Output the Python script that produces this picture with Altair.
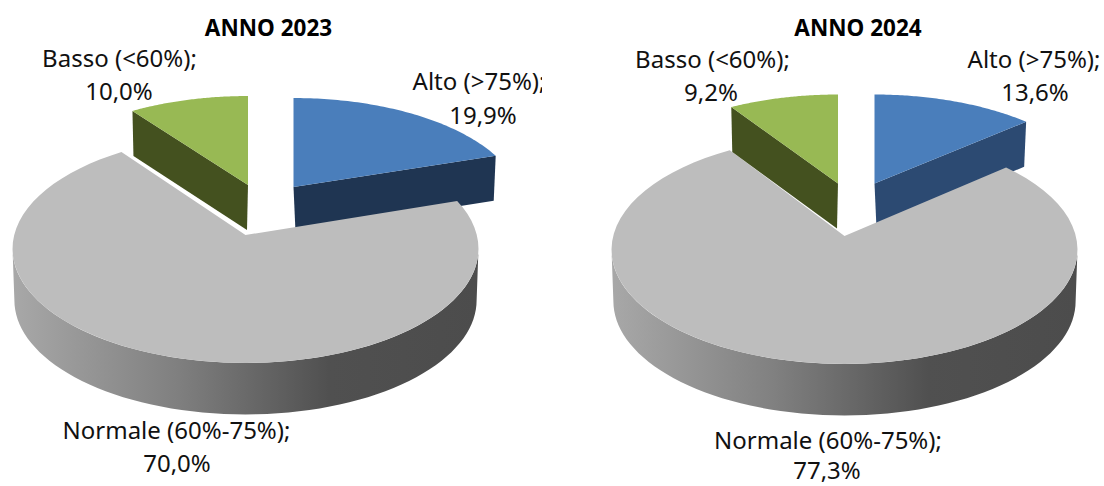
import math
import altair as alt

# Share of readings in each band, per year
categories = ["Alto (>75%)", "Normale (60%-75%)", "Basso (<60%)"]
values_2023 = [19.9, 70.0, 10.0]
values_2024 = [13.6, 77.3, 9.2]
years = ["ANNO 2023", "ANNO 2024"]

FONT = "Noto Sans"
BLUE, GREEN, GREY = "#4a7ebb", "#98b954", "#bdbdbd"
GREEN_SIDE = "#44511f"
DEPTH = 45


def rim(apex, turn, a, b, k):
    """Point of the tilted disc at `turn` (0-1, clockwise from the back)."""
    t = 2 * math.pi * turn
    u, v = math.sin(t), math.cos(t)
    w = 1 + k * v
    return [apex[0] + a * u / w, apex[1] - b * v / w]


def arc(apex, t0, t1, a, b, k, n=70):
    return [rim(apex, t0 + (t1 - t0) * i / n, a, b, k) for i in range(n + 1)]


def feature(points, fill):
    ring = points + [points[0]]
    return {"type": "Feature", "properties": {"fill": fill},
            "geometry": {"type": "Polygon", "coordinates": [ring]}}


def wedge(apex, t0, t1, a=225, b=105, k=0.18):
    return [apex] + arc(apex, t0, t1, a, b, k)


def cut_wall(apex, turn, dx, fill, a=225, b=105, k=0.18):
    """Flat face of a pulled-out slice, running from its centre to its rim."""
    end = rim(apex, turn, a, b, k)
    return feature([apex, end, [end[0] - dx, end[1] + DEPTH],
                    [apex[0] + dx, apex[1] + DEPTH]], fill)


def pie_layers(values, grey_apex, blue_apex, green_apex, blue_side):
    alto, normale, basso = [v / sum(values) for v in values]
    g = dict(a=231.3, b=112.6, k=0.12)
    start, end = alto, alto + normale

    back = [cut_wall(blue_apex, alto, 2, blue_side),
            feature(wedge(blue_apex, 0, alto), BLUE)]

    # The rounded side runs between the disc's widest points
    widest = math.acos(-g["k"]) / (2 * math.pi)
    lower = (grey_apex[0], grey_apex[1] + 51.5)
    wall = (arc(grey_apex, widest, 1 - widest, **g)
            + arc(lower, 1 - widest, widest, 0.992 * g["a"], g["b"], g["k"]))
    side = [feature(wall, "side")]

    front = [feature(wedge(grey_apex, start, end, **g), GREY),
             cut_wall(green_apex, 1 - basso, -1, GREEN_SIDE),
             feature(wedge(green_apex, 1 - basso, 1), GREEN)]
    return back, side, front


def shapes(features, **mark_args):
    chart = alt.Chart(alt.Data(values=features)).mark_geoshape(stroke=None, **mark_args)
    return chart.project(type="identity", scale=1, translate=[0, 0])


def filled(features):
    return shapes(features).encode(fill=alt.Fill("properties.fill:N", scale=None))


side_fill = alt.Gradient(
    gradient="linear", x1=0, x2=1, y1=0, y2=0,
    stops=[alt.GradientStop(offset=0, color="#a8a8a8"),
           alt.GradientStop(offset=0.35, color="#808080"),
           alt.GradientStop(offset=0.68, color="#505050"),
           alt.GradientStop(offset=1, color="#4c4c4c")],
)


def pct(v):
    return f"{v:.1f}%".replace(".", ",")


def label_rows(values, spots):
    rows = []
    for name, value, (cx, y1, cx2, y2) in zip(categories, values, spots):
        rows.append({"t": f"{name};", "x": cx, "y": y1})
        rows.append({"t": pct(value), "x": cx2, "y": y2})
    return rows


labels = (
    label_rows(values_2023, [(479, 90, 483, 124), (176.5, 439, 177, 472), (119.5, 67, 119, 100)])
    + label_rows(values_2024, [(1034, 68, 1035, 101), (828, 449, 827, 479), (712.5, 68, 711, 101)])
)
titles = [{"t": years[0], "x": 268.5, "y": 36}, {"t": years[1], "x": 858, "y": 36}]
label_cut = [{"x": 542, "x2": 560, "y": 70, "y2": 98}]

layers = []
for vals, grey_c, blue_c, green_c, blue_side in [
    (values_2023, (245.5, 235), (293.5, 187), (248, 185), "#1f3552"),
    (values_2024, (844.5, 236), (874.5, 183.5), (838, 183.5), "#2c4a72"),
]:
    back, side, front = pie_layers(vals, list(grey_c), list(blue_c), list(green_c), blue_side)
    layers += [filled(back), shapes(side, fill=side_fill), filled(front)]

text_enc = dict(x=alt.X("x:Q", scale=None), y=alt.Y("y:Q", scale=None), text="t:N")
label_text = alt.Chart(alt.Data(values=labels)).mark_text(
    font=FONT, fontSize=24, color="#111111", align="center", baseline="alphabetic"
).encode(**text_enc)
title_text = alt.Chart(alt.Data(values=titles)).mark_text(
    font=FONT, fontSize=22.5, fontWeight="bold", color="#000000", align="center", baseline="alphabetic"
).encode(**text_enc)
cut = alt.Chart(alt.Data(values=label_cut)).mark_rect(fill="white").encode(
    x=alt.X("x:Q", scale=None), x2="x2:Q", y=alt.Y("y:Q", scale=None), y2="y2:Q"
)

chart = alt.layer(*layers, label_text, cut, title_text).properties(
    width=1104, height=486, padding=0, background="white",
    autosize=alt.AutoSizeParams(type="none"),
).configure_view(stroke=None)

chart.save("out.html", embed_options={"renderer": "svg", "actions": False})
